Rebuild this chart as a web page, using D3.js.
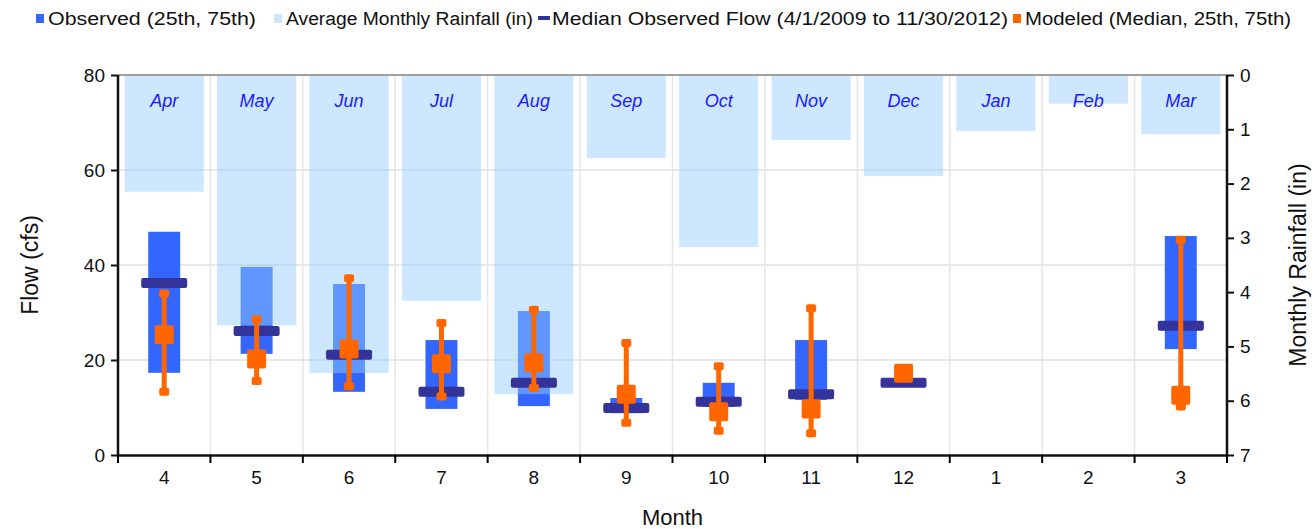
<!DOCTYPE html>
<html>
<head>
<meta charset="utf-8">
<script src="https://cdn.jsdelivr.net/npm/d3@7"></script>
<style>
  body { margin: 0; background: #fff; }
  svg { display: block; font-family: "Liberation Sans", Arial, sans-serif; }
</style>
</head>
<body>
<div id="chart"></div>
<script>
// month order on the x axis (water year, Apr -> Mar)
const months = [4, 5, 6, 7, 8, 9, 10, 11, 12, 1, 2, 3];
const monthNames = ['Apr', 'May', 'Jun', 'Jul', 'Aug', 'Sep', 'Oct', 'Nov', 'Dec', 'Jan', 'Feb', 'Mar'];

// average monthly rainfall (in), hangs from the top on the right axis
const rainfall = [2.15, 4.61, 5.49, 4.16, 5.88, 1.53, 3.17, 1.20, 1.86, 1.03, 0.53, 1.09];

// observed flow (cfs)
const obsP25 = [17.3, 21.3, 13.3, 9.7, 10.3, 8.8, 10.1, 11.6, 15.0, null, null, 22.3];
const obsP75 = [47.0, 39.6, 36.0, 24.2, 30.3, 12.0, 15.2, 24.2, 15.2, null, null, 46.1];
const obsMedian = [36.2, 26.1, 21.1, 13.3, 15.2, 9.9, 11.2, 12.8, 15.2, null, null, 27.2];

// modeled flow (cfs)
const modP25 = [13.3, 15.6, 14.5, 12.3, 14.1, 6.8, 5.1, 4.6, 17.2, null, null, 10.2];
const modMedian = [25.3, 20.2, 22.3, 19.2, 19.4, 12.8, 9.1, 9.7, 17.2, null, null, 12.6];
const modP75 = [34.0, 28.6, 37.2, 27.8, 30.6, 23.6, 18.7, 30.9, 17.2, null, null, 45.3];

const flowTicks = [0, 20, 40, 60, 80];
const rainTicks = [0, 1, 2, 3, 4, 5, 6, 7];

const legendLabels = ['Observed (25th, 75th)', 'Average Monthly Rainfall (in)',
  'Median Observed Flow (4/1/2009 to 11/30/2012)', 'Modeled (Median, 25th, 75th)'];

const width = 1315, height = 529;
const margin = {left: 118, right: 88, top: 75, bottom: 74};
const innerW = width - margin.left - margin.right;
const innerH = height - margin.top - margin.bottom;

const colObs = '#3366ff', colRain = 'rgb(147,203,255)', colMed = '#333399', colMod = '#ff6600';

const svg = d3.select('#chart').append('svg').attr('width', width).attr('height', height);
const g = svg.append('g').attr('transform', 'translate(' + margin.left + ',' + margin.top + ')');

const x = d3.scaleBand().domain(d3.range(months.length)).range([0, innerW]).padding(0);
const y = d3.scaleLinear().domain([0, 80]).range([innerH, 0]);
const yR = d3.scaleLinear().domain([0, 7]).range([0, innerH]);
const bw = x.bandwidth();
const cx = i => x(i) + bw / 2;

// grid
g.append('g').selectAll('line.h').data(flowTicks.slice(1, -1)).join('line')
  .attr('x1', 0).attr('x2', innerW).attr('y1', d => y(d)).attr('y2', d => y(d))
  .style('stroke', '#e0e0e0').style('stroke-width', 1.5);
g.append('g').selectAll('line.v').data(d3.range(1, months.length)).join('line')
  .attr('x1', d => x(d)).attr('x2', d => x(d)).attr('y1', 0).attr('y2', innerH)
  .style('stroke', '#e6e6e6').style('stroke-width', 1.5);

// observed 25th-75th bars
const idx = d3.range(months.length);
const has = i => obsMedian[i] !== null;
g.append('g').selectAll('rect').data(idx.filter(has)).join('rect')
  .attr('x', i => cx(i) - bw * 0.173).attr('width', bw * 0.346)
  .attr('y', i => y(obsP75[i])).attr('height', i => y(obsP25[i]) - y(obsP75[i]))
  .style('fill', colObs);

// rainfall bars from the top
g.append('g').selectAll('rect').data(idx).join('rect')
  .attr('x', i => cx(i) - bw * 0.428).attr('width', bw * 0.856)
  .attr('y', 0).attr('height', i => yR(rainfall[i]))
  .style('fill', colRain).style('fill-opacity', 0.47);

g.append('g').selectAll('text').data(idx).join('text')
  .attr('x', i => cx(i)).attr('y', 32).attr('text-anchor', 'middle')
  .style('font-size', '18px').style('font-style', 'italic').style('fill', '#1a1aff')
  .text(i => monthNames[i]);

// top border
g.append('line').attr('x1', 0).attr('x2', innerW).attr('y1', 0).attr('y2', 0)
  .style('stroke', '#a0a0a0').style('stroke-width', 2);

// median observed flow
g.append('g').selectAll('rect').data(idx.filter(has)).join('rect')
  .attr('x', i => cx(i) - 23).attr('width', 46)
  .attr('y', i => y(obsMedian[i]) - 5).attr('height', 10).attr('rx', 2)
  .style('fill', colMed);

// modeled whiskers, caps and median squares
const mod = g.append('g');
const modIdx = idx.filter(i => modMedian[i] !== null);
const spread = modIdx.filter(i => modP75[i] > modP25[i]);
mod.selectAll('line').data(spread).join('line')
  .attr('x1', cx).attr('x2', cx).attr('y1', i => y(modP75[i])).attr('y2', i => y(modP25[i]))
  .style('stroke', colMod).style('stroke-width', 5);
mod.selectAll('rect.cap').data(spread.flatMap(i => [[i, modP25[i]], [i, modP75[i]]]))
  .join('rect').attr('class', 'cap')
  .attr('x', d => cx(d[0]) - 5).attr('width', 10)
  .attr('y', d => y(d[1]) - 4).attr('height', 8).attr('rx', 2)
  .style('fill', colMod);
mod.selectAll('rect.med').data(modIdx).join('rect').attr('class', 'med')
  .attr('x', i => cx(i) - 9.5).attr('width', 19)
  .attr('y', i => y(modMedian[i]) - 9.5).attr('height', 19).attr('rx', 2)
  .style('fill', colMod);

// axes
const axL = g.append('g').call(d3.axisLeft(y).tickValues(flowTicks).tickSize(7).tickPadding(6));
const axR = g.append('g').attr('transform', 'translate(' + innerW + ',0)')
  .call(d3.axisRight(yR).tickValues(rainTicks).tickFormat(d3.format('d')).tickSize(7).tickPadding(6));
const axB = g.append('g').attr('transform', 'translate(0,' + innerH + ')')
  .call(d3.axisBottom(x).tickFormat(i => months[i]).tickSize(0).tickPadding(16));
axB.append('g').selectAll('line').data(d3.range(months.length + 1)).join('line')
  .attr('x1', d => d * bw).attr('x2', d => d * bw).attr('y1', 0).attr('y2', 8)
  .style('stroke', '#000').style('stroke-width', 2);

[axL, axR, axB].forEach(a => {
  a.select('.domain').style('stroke', '#111').style('stroke-width', 2.5);
  a.selectAll('.tick line').style('stroke', '#111').style('stroke-width', 2);
  a.selectAll('.tick text').style('font-size', '19px').style('fill', '#111')
    .style('font-family', '"Liberation Sans", Arial, sans-serif');
});
axL.select('.domain').attr('d', 'M0,0V' + innerH);
axR.select('.domain').attr('d', 'M0,0V' + innerH);

// axis titles
svg.append('text').attr('x', margin.left + innerW / 2).attr('y', 525).attr('text-anchor', 'middle')
  .style('font-size', '22px').style('fill', '#111').text('Month');
svg.append('text').attr('transform', 'translate(38,' + (margin.top + innerH / 2) + ') rotate(-90)')
  .attr('text-anchor', 'middle').style('font-size', '23px').style('fill', '#111').text('Flow (cfs)');
svg.append('text').attr('transform', 'translate(1306,' + (margin.top + innerH / 2) + ') rotate(-90)')
  .attr('text-anchor', 'middle').style('font-size', '23px').style('fill', '#111').text('Monthly Rainfall (in)');

// legend
const legendX = [36, 274, 538, 1013];
const legendW = [208, 247, 456, 266];
const leg = svg.append('g').attr('transform', 'translate(0,18)');
legendLabels.forEach((lbl, k) => {
  const item = leg.append('g').attr('transform', 'translate(' + legendX[k] + ',0)');
  if (k === 2) {
    item.append('rect').attr('x', 0).attr('y', -2).attr('width', 12).attr('height', 4).style('fill', colMed);
  } else {
    item.append('rect').attr('x', 0).attr('y', -4).attr('width', 8).attr('height', 9)
      .style('fill', [colObs, '#cce5ff', null, colMod][k]);
  }
  item.append('text').attr('x', k === 2 ? 14 : 12).attr('y', 7)
    .attr('textLength', legendW[k]).attr('lengthAdjust', 'spacingAndGlyphs')
    .style('font-size', '18px').style('fill', '#111').text(lbl);
});
</script>
</body>
</html>
